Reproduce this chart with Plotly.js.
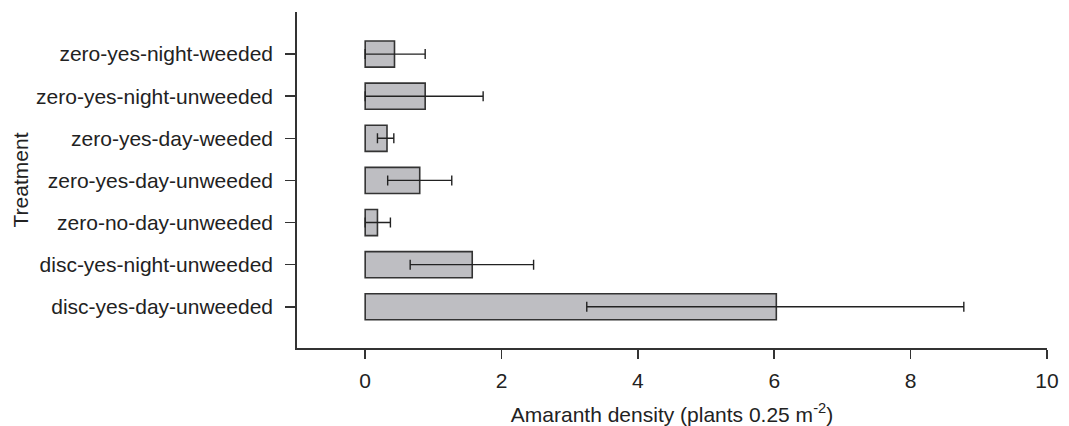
<!DOCTYPE html>
<html>
<head>
<meta charset="utf-8">
<script src="https://cdn.plot.ly/plotly-3.0.1.min.js"></script>
<style>
  html, body { margin: 0; padding: 0; background: #fff; }
  #chart { width: 1069px; height: 426px; }
</style>
</head>
<body>
<div id="chart"></div>
<script>
// Categories listed top to bottom as in the figure
const treatments = [
  "zero-yes-night-weeded",
  "zero-yes-night-unweeded",
  "zero-yes-day-weeded",
  "zero-yes-day-unweeded",
  "zero-no-day-unweeded",
  "disc-yes-night-unweeded",
  "disc-yes-day-unweeded"
];
// Mean amaranth density (plants 0.25 m^-2)
const density = [0.43, 0.88, 0.32, 0.80, 0.18, 1.57, 6.03];
// Error bar extents
const errUpper = [0.45, 0.85, 0.10, 0.47, 0.19, 0.90, 2.75];
const errLower = [0.43, 0.88, 0.14, 0.47, 0.18, 0.91, 2.78];
const xTicks = [0, 2, 4, 6, 8, 10];

const font = { family: "Liberation Sans, Arial, Helvetica, sans-serif", size: 21, color: "#222" };

const trace = {
  type: "bar",
  orientation: "h",
  y: treatments,
  x: density,
  width: 0.62,
  marker: { color: "#bebec2", line: { color: "#333", width: 1.6 } },
  error_x: {
    type: "data",
    symmetric: false,
    array: errUpper,
    arrayminus: errLower,
    color: "#222",
    thickness: 1.4,
    width: 5
  },
  hoverinfo: "x+y"
};

const layout = {
  width: 1069,
  height: 426,
  margin: { l: 297, r: 22, t: 12, b: 78 },
  paper_bgcolor: "#fff",
  plot_bgcolor: "#fff",
  font: font,
  showlegend: false,
  xaxis: {
    range: [-1, 10],
    tickvals: xTicks,
    ticktext: xTicks.map(String),
    ticks: "outside",
    ticklen: 9,
    tickwidth: 1.6,
    tickcolor: "#333",
    showline: true,
    linecolor: "#333",
    linewidth: 1.8,
    showgrid: false,
    zeroline: false,
    ticklabelstandoff: 4,
    tickfont: font,
    title: { text: "Amaranth density (plants 0.25 m<sup>-2</sup>)", font: font, standoff: 18 },
    automargin: false
  },
  yaxis: {
    type: "category",
    categoryorder: "array",
    categoryarray: treatments,
    range: [6.98, -1],
    ticks: "outside",
    ticklen: 10,
    tickwidth: 1.6,
    tickcolor: "#333",
    showline: true,
    linecolor: "#333",
    linewidth: 1.8,
    showgrid: false,
    zeroline: false,
    ticklabelstandoff: 8,
    tickfont: font,
    title: { text: "Treatment", font: font, standoff: 2 },
    automargin: false
  }
};

Plotly.newPlot("chart", [trace], layout, { displayModeBar: false, staticPlot: true });
</script>
</body>
</html>
